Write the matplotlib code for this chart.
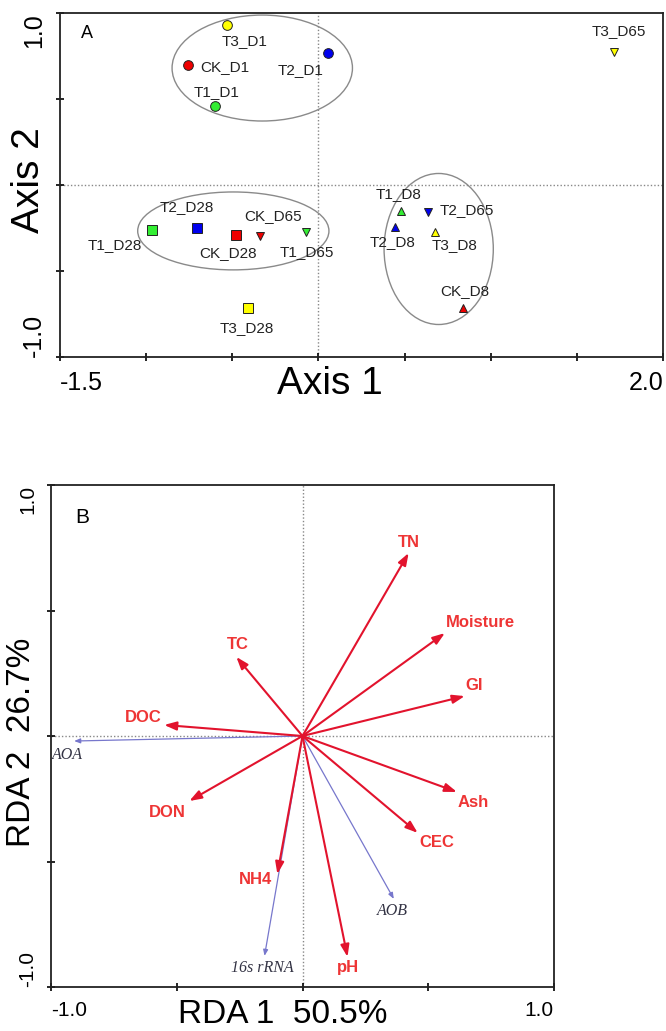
import numpy as np
import matplotlib
matplotlib.use('Agg')
import matplotlib.pyplot as plt
from matplotlib.patches import Ellipse

plt.rcParams['font.family'] = ['Liberation Sans', 'DejaVu Sans']

# --- panel A: sample scores ---
samples = ['CK_D1', 'T1_D1', 'T2_D1', 'T3_D1',
           'CK_D8', 'T1_D8', 'T2_D8', 'T3_D8',
           'CK_D28', 'T1_D28', 'T2_D28', 'T3_D28',
           'CK_D65', 'T1_D65', 'T2_D65', 'T3_D65']
axis1 = [-0.756, -0.599, 0.058, -0.529,
         0.837, 0.477, 0.442, 0.674,
         -0.477, -0.965, -0.703, -0.407,
         -0.337, -0.070, 0.634, 1.715]
axis2 = [0.698, 0.459, 0.767, 0.930,
         -0.715, -0.151, -0.244, -0.273,
         -0.290, -0.262, -0.250, -0.715,
         -0.297, -0.273, -0.157, 0.773]

# group ellipses (D1, D28, D8)
ell_x = [-0.326, -0.494, 0.698]
ell_y = [0.680, -0.267, -0.372]
ell_w = [1.047, 1.110, 0.634]
ell_h = [0.616, 0.453, 0.878]

# --- panel B: RDA biplot ---
env = ['TN', 'Moisture', 'GI', 'TC', 'DOC', 'DON', 'NH4', 'pH', 'CEC', 'Ash']
env_rda1 = [0.422, 0.566, 0.645, -0.263, -0.550, -0.450, -0.100, 0.179, 0.458, 0.614]
env_rda2 = [0.729, 0.410, 0.159, 0.315, 0.044, -0.259, -0.550, -0.880, -0.386, -0.223]
spec = ['AOA', '16s rRNA', 'AOB']
spec_rda1 = [-0.908, -0.151, 0.363]
spec_rda2 = [-0.020, -0.876, -0.649]

# styles
colores = {'CK': '#ee0000', 'T1': '#33ee33', 'T2': '#0000ee', 'T3': '#ffff00'}
marcas = {'D1': ('o', 7), 'D8': ('^', 5.5), 'D28': ('s', 7), 'D65': ('v', 5.5)}
# label offsets in pixels (dx, dy)
off_a = [(37, -2), (1, 14), (-28, -17), (17, -16),
         (2, 17), (-2, 17), (-2, -15), (20, -13),
         (-8, -18), (-37, -15), (-10, 21), (-1, -20),
         (13, 20), (0, -20), (39, 2), (5, 21)]
off_env = [(0, 11, 'center'), (1, 11, 'left'), (1, 11, 'left'), (1, 12, 'center'),
           (-3, 7, 'right'), (-22, -11, 'center'), (-22, -5, 'center'),
           (0, -11, 'center'), (19, -10, 'center'), (16, -11, 'center')]
off_spec = [(-7, -14), (-2, -12), (-1, -12)]

W, H = 666, 1031
fig = plt.figure(figsize=(W / 100, H / 100), dpi=100)

def box(l, t, r, b):
    return [l / W, 1 - b / H, (r - l) / W, (b - t) / H]

def estilo(ax, xt, yt, xlab, ylab, fs):
    for s in ax.spines.values():
        s.set_linewidth(1.3)
        s.set_color('#222222')
    ax.set_xticks(xt)
    ax.set_yticks(yt)
    ax.set_xticklabels([xlab[0]] + [''] * (len(xt) - 2) + [xlab[1]], fontsize=fs)
    ax.set_yticklabels([ylab[0]] + [''] * (len(yt) - 2) + [ylab[1]], fontsize=fs,
                       rotation=90)
    ax.tick_params(direction='inout', length=6, width=1.2, pad=7)
    xl = ax.get_xticklabels()
    xl[0].set_ha('left')
    xl[-1].set_ha('right')
    yl = ax.get_yticklabels()
    yl[0].set_va('bottom')
    yl[-1].set_va('top')
    ax.axhline(0, color='#888888', lw=1, ls=(0, (1, 1.5)), zorder=0)
    ax.axvline(0, color='#888888', lw=1, ls=(0, (1, 1.5)), zorder=0)

# panel A
ax = fig.add_axes(box(60, 13, 663, 357))
ax.set_xlim(-1.5, 2.0)
ax.set_ylim(-1.0, 1.0)
estilo(ax, np.arange(-1.5, 2.01, 0.5), np.arange(-1.0, 1.01, 0.5),
       ['-1.5', '2.0'], ['-1.0', '1.0'], 18)
for i in range(3):
    ax.add_patch(Ellipse((ell_x[i], ell_y[i]), ell_w[i], ell_h[i],
                         fill=False, ec='#8a8a8a', lw=1))
for i, s in enumerate(samples):
    trat, dia = s.split('_')
    m, ms = marcas[dia]
    ax.plot(axis1[i], axis2[i], marker=m, ms=ms, mfc=colores[trat],
            mec='#222222', mew=0.7, ls='none', zorder=3)
    ax.annotate(s, (axis1[i], axis2[i]), xytext=off_a[i], textcoords='offset pixels',
                ha='center', va='center', fontsize=11, color='#222222')
ax.text(0.035, 0.94, 'A', transform=ax.transAxes, fontsize=13, va='center')
ax.set_xlabel('Axis 1', fontsize=28)
ax.set_ylabel('Axis 2', fontsize=28)
ax.xaxis.set_label_coords(0.448, -0.078)
ax.yaxis.set_label_coords(-0.052, 0.515)
ax.xaxis.label.set_va('center')
ax.yaxis.label.set_va('center')

# panel B
bx = fig.add_axes(box(51, 485, 554, 987))
bx.set_xlim(-1.0, 1.0)
bx.set_ylim(-1.0, 1.0)
estilo(bx, np.arange(-1.0, 1.01, 0.5), np.arange(-1.0, 1.01, 0.5),
       ['-1.0', '1.0'], ['-1.0', '1.0'], 15)
for i, nm in enumerate(spec):
    bx.annotate('', xy=(spec_rda1[i], spec_rda2[i]), xytext=(0, 0),
                arrowprops=dict(arrowstyle='-|>,head_length=0.5,head_width=0.2',
                                mutation_scale=7, color='#7777cc', lw=0.9,
                                shrinkA=0, shrinkB=0))
    bx.annotate(nm, (spec_rda1[i], spec_rda2[i]), xytext=off_spec[i],
                textcoords='offset pixels', ha='center', va='center',
                fontsize=11.5, style='italic', color='#333344',
                family=['Liberation Serif', 'DejaVu Serif'])
for i, nm in enumerate(env):
    bx.annotate('', xy=(env_rda1[i], env_rda2[i]), xytext=(0, 0),
                arrowprops=dict(arrowstyle='-|>,head_length=0.45,head_width=0.16',
                                mutation_scale=16, color='#e2132d', lw=1.5,
                                shrinkA=0, shrinkB=0))
    dx, dy, ha = off_env[i]
    bx.annotate(nm, (env_rda1[i], env_rda2[i]), xytext=(dx, dy),
                textcoords='offset pixels', ha=ha, va='center',
                fontsize=12, fontweight='bold', color='#ee3535')
bx.text(0.048, 0.935, 'B', transform=bx.transAxes, fontsize=15, va='center')
bx.set_xlabel('RDA 1  50.5%', fontsize=24)
bx.set_ylabel('RDA 2  26.7%', fontsize=24)
bx.xaxis.set_label_coords(0.461, -0.055)
bx.yaxis.set_label_coords(-0.058, 0.488)
bx.xaxis.label.set_va('center')
bx.yaxis.label.set_va('center')

fig.savefig('out.png', dpi=100)
